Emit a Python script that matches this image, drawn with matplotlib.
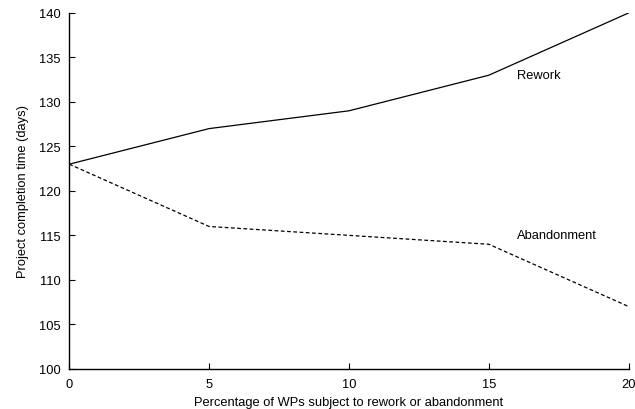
import matplotlib.pyplot as plt

plt.rcParams['font.family'] = ['Liberation Sans', 'DejaVu Sans']

pct = [0, 5, 10, 15, 20]
rework = [123, 127, 129, 133, 140]
abandonment = [123, 116, 115, 114, 107]

fs = 9.3

fig, ax = plt.subplots(figsize=(6.35, 4.1), dpi=100)
fig.subplots_adjust(left=0.109, right=0.99, top=0.966, bottom=0.098)

ax.plot(pct, rework, color='black', lw=0.9)
ax.plot(pct, abandonment, color='black', lw=0.9, linestyle=(0, (3, 2)))

ax.text(16, 133, 'Rework', fontsize=fs, va='center', ha='left')
ax.text(16, 115, 'Abandonment', fontsize=fs, va='center', ha='left')

ax.set_xlim(0, 20)
ax.set_ylim(100, 140)
ax.set_xticks(pct)
ax.set_yticks(range(100, 141, 5))
ax.spines['top'].set_visible(False)
ax.spines['right'].set_visible(False)
ax.spines['left'].set_linewidth(1.0)
ax.spines['bottom'].set_linewidth(1.0)
ax.tick_params(direction='in', length=4, width=0.8, labelsize=fs)
ax.tick_params(axis='y', pad=6)
ax.tick_params(axis='x', pad=6.6)

ax.set_xlabel('Percentage of WPs subject to rework or abandonment', fontsize=fs, labelpad=4.5)
ax.set_ylabel('Project completion time (days)', fontsize=fs, labelpad=7)

fig.savefig('out.png')
